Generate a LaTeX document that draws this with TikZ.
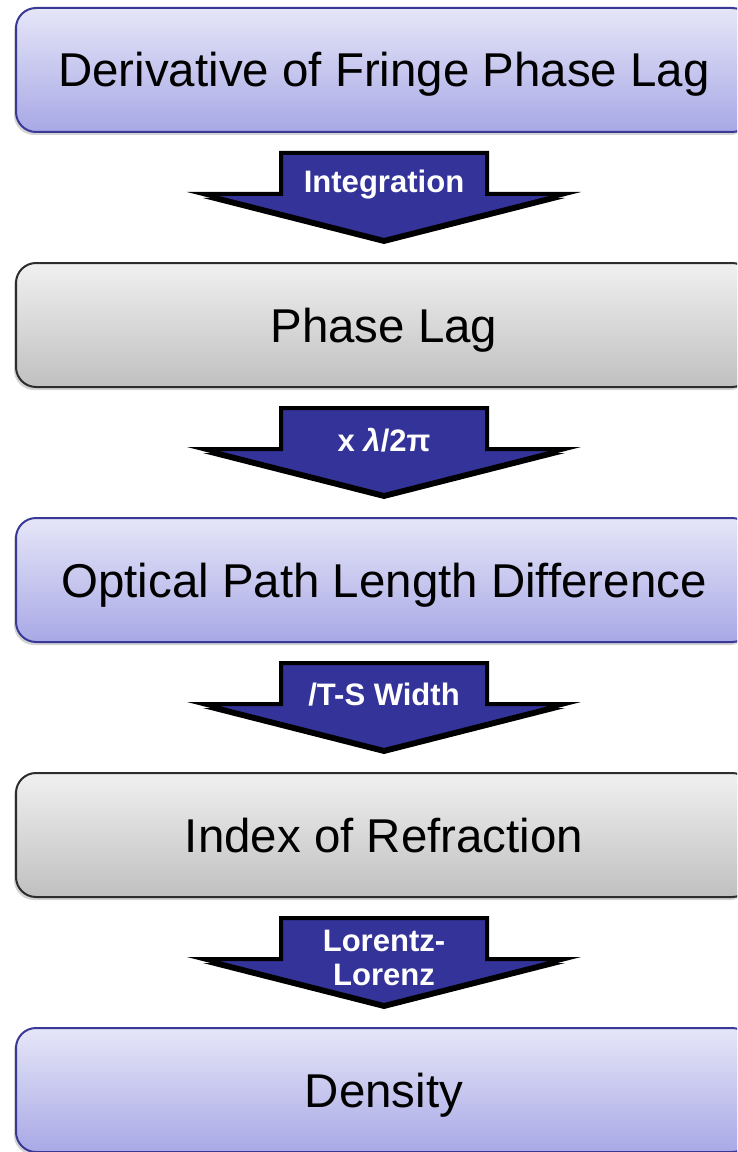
\documentclass[tikz,border=0pt]{standalone}
\usepackage{fontspec}
\setmainfont{Liberation Sans}
\usetikzlibrary{positioning, shadows}

\definecolor{lavtop}{RGB}{230,230,248}
\definecolor{lavbot}{RGB}{168,168,230}
\definecolor{lavedge}{RGB}{58,58,150}
\definecolor{greytop}{RGB}{240,240,240}
\definecolor{greybot}{RGB}{192,192,192}
\definecolor{greyedge}{RGB}{45,45,45}
\definecolor{arrowblue}{RGB}{51,51,153}

% block arrow hanging below a box: [label y] {box above} {label name} {label text}
\newcommand{\stepdown}[4][-1.56]{%
  \begin{scope}[shift={(#2.south)}]
    \fill[black] (-3.09,-0.72) -- (3.09,-0.72) -- (3.09,-1.95) -- (5.43,-1.95) -- (0,-3.33) -- (-5.43,-1.95) -- (-3.09,-1.95) -- cycle;
    \draw[blockarrow] (-3.09,-0.60) -- (3.09,-0.60) -- (3.09,-1.83) -- (5.43,-1.83) -- (0,-3.21) -- (-5.43,-1.83) -- (-3.09,-1.83) -- cycle;
    \node[arrowlabel] (#3) at (0,#1) {#4};
  \end{scope}}

\begin{document}
\begin{tikzpicture}[
    node distance=3.87cm,
    stage/.style={rectangle, rounded corners=0.6cm, minimum width=22.08cm, minimum height=3.72cm, line width=0.06cm, text height=1.02cm, text depth=0pt, font=\fontsize{40.5}{48}\selectfont, drop shadow={shadow xshift=-0.06cm, shadow yshift=-0.09cm, opacity=0.35}},
    lavbox/.style={stage, draw=lavedge, top color=lavtop, bottom color=lavbot},
    greybox/.style={stage, draw=greyedge, top color=greytop, bottom color=greybot},
    blockarrow/.style={draw=black, line width=0.12cm, fill=arrowblue, line join=miter},
    arrowlabel/.style={text=white, align=center, inner sep=0pt, font=\fontsize{26.5}{28.5}\selectfont\bfseries}
]
\useasboundingbox (0,0) rectangle (22.11,-34.56);
\clip (0,0) rectangle (22.11,-34.56);

% Stages
\node[lavbox] (deriv) at (11.52,-2.10) {Derivative of Fringe Phase Lag};
\node[greybox, below=of deriv] (phase) {Phase Lag};
\node[lavbox, below=of phase] (opl) {Optical Path Length Difference};
\node[greybox, below=of opl] (index) {Index of Refraction};
\node[lavbox, below=of index] (density) {Density};

% Conversion steps
\stepdown{deriv}{integ}{Integration}
\stepdown{phase}{scale}{x \textit{λ}/2π}
\stepdown{opl}{width}{/T-S Width}
\stepdown[-1.80]{index}{lorentz}{Lorentz-\\Lorenz}

\end{tikzpicture}
\end{document}
